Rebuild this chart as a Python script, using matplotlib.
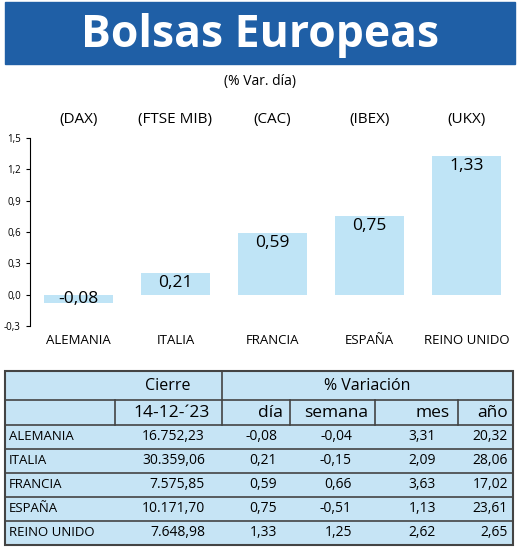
import matplotlib.pyplot as plt
from matplotlib.patches import Rectangle

plt.rcParams['font.family'] = ['Open Sans', 'DejaVu Sans']

paises = ['ALEMANIA', 'ITALIA', 'FRANCIA', 'ESPAÑA', 'REINO UNIDO']
indices = ['(DAX)', '(FTSE MIB)', '(CAC)', '(IBEX)', '(UKX)']
var_dia = [-0.08, 0.21, 0.59, 0.75, 1.33]
cierre = ['16.752,23', '30.359,06', '7.575,85', '10.171,70', '7.648,98']
semana = ['-0,04', '-0,15', '0,66', '-0,51', '1,25']
mes = ['3,31', '2,09', '3,63', '1,13', '2,62']
anio = ['20,32', '28,06', '17,02', '23,61', '2,65']
yticks = [-0.3, 0.0, 0.3, 0.6, 0.9, 1.2, 1.5]

W, H = 520, 550
BLUE = '#1f5fa6'
LIGHT = '#c6e4f5'
fig = plt.figure(figsize=(W / 100, H / 100), dpi=100)

# overlay in pixel coords
bg = fig.add_axes([0, 0, 1, 1])
bg.set_xlim(0, W)
bg.set_ylim(H, 0)
bg.axis('off')

bg.add_patch(Rectangle((5, 2), 510, 62, color=BLUE))
bg.text(W / 2, 36, 'Bolsas Europeas', ha='center', va='center', color='white',
        fontsize=32, fontweight='bold')
bg.text(W / 2, 81, '(% Var. día)', ha='center', va='center', fontsize=10)

# bar chart
ax = fig.add_axes([30 / W, 1 - 326 / H, 485 / W, (326 - 138) / H])
x = range(len(paises))
ax.bar(x, var_dia, width=0.72, color='#bfe4f6')
ax.set_ylim(-0.3, 1.5)
ax.set_xlim(-0.5, 4.5)
ax.set_yticks(yticks)
ax.set_yticklabels([f'{v:.1f}'.replace('.', ',') for v in yticks], fontsize=7)
ax.set_xticks(list(x))
ax.set_xticklabels(paises, fontsize=9.5)
ax.tick_params(axis='x', length=0, pad=6)
ax.tick_params(axis='y', length=3)
for s in ['top', 'right', 'bottom']:
    ax.spines[s].set_visible(False)
for i, v in enumerate(var_dia):
    ypos = v - 0.02 if v > 0 else -0.04
    va = 'top' if v > 0 else 'center'
    ax.text(i, ypos, f'{v:.2f}'.replace('.', ','), ha='center', va=va, fontsize=12.5)
for i, lab in enumerate(indices):
    ax.text(i, 1.68, lab, ha='center', va='center', fontsize=11, clip_on=False)

# table
top, bot = 371, 545
bg.add_patch(Rectangle((5, top), 508, bot - top, facecolor=LIGHT, edgecolor='#444444', lw=1.5))
line = dict(color='#444444', lw=1.2)
bg.plot([5, 513], [400, 400], **line)
bg.plot([222, 222], [top, 425], **line)
for xv in [115, 290, 375, 458]:
    bg.plot([xv, xv], [400, 425], **line)
rows_y = [425, 449, 473, 497, 521]
for yv in rows_y:
    bg.plot([5, 513], [yv, yv], **line)
bg.text(168, 386, 'Cierre', ha='center', va='center', fontsize=11.5)
bg.text(367, 386, '% Variación', ha='center', va='center', fontsize=11.5)
bg.text(210, 413, '14-12-´23', ha='right', va='center', fontsize=12.5)
bg.text(283, 413, 'día', ha='right', va='center', fontsize=12.5)
bg.text(368, 413, 'semana', ha='right', va='center', fontsize=12.5)
bg.text(450, 413, 'mes', ha='right', va='center', fontsize=12.5)
bg.text(508, 413, 'año', ha='right', va='center', fontsize=12.5)
for i in range(len(paises)):
    yc = rows_y[i] + 12
    bg.text(9, yc, paises[i], ha='left', va='center', fontsize=9.5)
    bg.text(205, yc, cierre[i], ha='right', va='center', fontsize=10)
    bg.text(277, yc, f'{var_dia[i]:.2f}'.replace('.', ','), ha='right', va='center', fontsize=10)
    bg.text(352, yc, semana[i], ha='right', va='center', fontsize=10)
    bg.text(436, yc, mes[i], ha='right', va='center', fontsize=10)
    bg.text(508, yc, anio[i], ha='right', va='center', fontsize=10)

fig.savefig('out.png', dpi=100)
